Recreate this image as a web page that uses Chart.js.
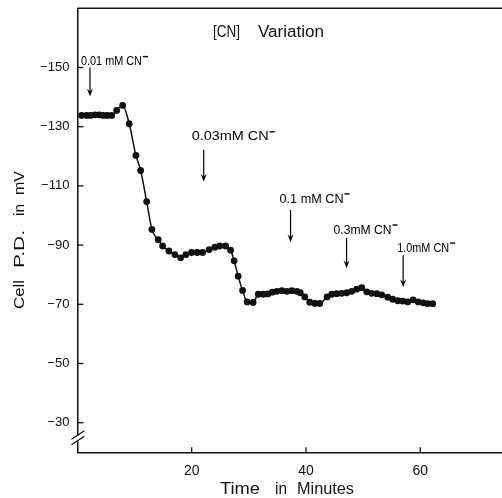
<!DOCTYPE html>
<html><head><meta charset="utf-8">
<style>html,body{margin:0;padding:0;background:#fff;overflow:hidden}</style>
<script src="https://cdn.jsdelivr.net/npm/chart.js@4"></script>
</head><body>
<canvas id="c" width="502" height="498"></canvas>
<script>
// ---- data ----
const timeMin = [0.75,1.63,2.33,3.08,3.83,4.53,5.23,6.0,6.87,7.92,9.07,10.24,11.07,12.12,13.04,14.14,14.91,16.01,17.06,18.06,18.99,19.98,20.96,21.9,23.06,24.06,24.93,25.93,26.8,27.43,28.13,28.9,29.7,30.75,
  31.66,32.53,33.32,34.1,34.9,35.77,36.64,37.52,38.39,39.0,39.79,40.66,41.54,42.41,43.69,44.51,45.38,46.26,47.13,48.0,48.88,49.76,50.63,51.5,52.38,53.25,54.3,55.17,56.05,56.92,57.8,58.76,59.63,60.51,61.29,62.17];
const cellPD = [-133.8,-133.8,-133.8,-134.0,-134.0,-133.8,-133.8,-133.8,-135.5,-137.2,-131.0,-120.3,-115.2,-104.7,-95.3,-91.8,-89.7,-88.0,-86.8,-85.7,-86.8,-87.5,-87.5,-87.5,-88.5,-89.3,-89.7,-89.7,-88.3,-84.7,-79.5,-74.7,-70.8,-70.6,
  -73.4,-73.4,-73.5,-74.1,-74.4,-74.6,-74.4,-74.6,-74.4,-73.9,-72.5,-70.7,-70.3,-70.3,-72.5,-73.4,-73.6,-73.7,-73.9,-74.4,-75.1,-75.6,-74.2,-73.7,-73.6,-73.2,-72.4,-71.7,-71.2,-71.1,-70.8,-71.5,-70.8,-70.5,-70.2,-70.2];
const xTicks = [20, 40, 60];
const xTickLabels = ['20', '40', '60'];
const yTicks = [-150, -130, -110, -90, -70, -50, -30];
const yTickLabels = ['\u2212150', '\u2212130', '\u2212110', '\u221290', '\u221270', '\u221250', '\u221230'];
const cnLabels = ['0.01 mM CN', '0.03mM CN', '0.1 mM CN', '0.3mM CN', '1.0mM CN'];
const cnTimes = [2.2, 22.1, 37.3, 47.1, 57.0];
const arrowTopPD = [-150.0, -122.2, -101.9, -92.4, -86.6];
const arrowBottomPD = [-140.2, -111.4, -91.0, -82.2, -75.8];
const labelPD = [-152.0, -126.6, -105.6, -95.1, -89.0];
const chartTitle = ['[CN]', 'Variation'];
const xTitle = ['Time', 'in', 'Minutes'];
const yTitle = ['Cell', 'P.D.', 'in', 'mV'];

const points = timeMin.map((t, i) => ({x: t, y: cellPD[i]}));
const FONT = "'Liberation Sans', Arial, sans-serif";

const deco = {
  id: 'deco',
  afterDraw(chart) {
    const ctx = chart.ctx, a = chart.chartArea;
    const xs = chart.scales.x, ys = chart.scales.y;
    ctx.save();
    ctx.strokeStyle = '#111'; ctx.fillStyle = '#111';
    // top border
    ctx.lineWidth = 1.5;
    ctx.beginPath(); ctx.moveTo(a.left, a.top); ctx.lineTo(a.right, a.top); ctx.stroke();
    // inner ticks
    ctx.lineWidth = 1.3;
    yTicks.forEach(v => { const y = ys.getPixelForValue(v); ctx.beginPath(); ctx.moveTo(a.left, y); ctx.lineTo(a.left + 6, y); ctx.stroke(); });
    xTicks.forEach(v => { const x = xs.getPixelForValue(v); ctx.beginPath(); ctx.moveTo(x, a.bottom); ctx.lineTo(x, a.bottom - 5); ctx.stroke(); });
    // axis break
    ctx.fillStyle = '#fff';
    ctx.fillRect(a.left - 3, a.bottom - 16.5, 6, 5.5);
    ctx.fillStyle = '#111';
    ctx.lineWidth = 1.3;
    ctx.beginPath(); ctx.moveTo(a.left - 6, a.bottom - 13); ctx.lineTo(a.left + 7, a.bottom - 21.5); ctx.stroke();
    ctx.beginPath(); ctx.moveTo(a.left - 6, a.bottom - 7.5); ctx.lineTo(a.left + 7, a.bottom - 16); ctx.stroke();
    // title
    ctx.textBaseline = 'middle'; ctx.textAlign = 'left';
    ctx.font = '16px ' + FONT;
    fitText(ctx, chartTitle[0], 213, 33, 27);
    fitText(ctx, chartTitle[1], 258, 33, 66);
    // x title
    fitText(ctx, xTitle[0], 220, 490, 40);
    fitText(ctx, xTitle[1], 275, 490, 12);
    fitText(ctx, xTitle[2], 297, 490, 57);
    // y title
    ctx.save();
    ctx.translate(20, 0); ctx.rotate(-Math.PI / 2);
    ctx.font = '15px ' + FONT;
    fitText(ctx, yTitle[0], -309, 0, 29);
    fitText(ctx, yTitle[1], -268, 0, 38);
    fitText(ctx, yTitle[2], -216, 0, 12);
    fitText(ctx, yTitle[3], -195, 0, 24);
    ctx.restore();
    // annotations
    const shift = [-9, -12, -11, -13, -6];
    const widths = [61, 77, 64, 58, 52];
    ctx.fillStyle = '#000'; ctx.strokeStyle = '#000';
    ctx.font = '13.5px ' + FONT;
    cnLabels.forEach((lab, i) => {
      const x = xs.getPixelForValue(cnTimes[i]);
      const y0 = ys.getPixelForValue(arrowTopPD[i]);
      const y1 = ys.getPixelForValue(arrowBottomPD[i]);
      const ly = ys.getPixelForValue(labelPD[i]);
      const w = fitText(ctx, lab, x + shift[i], ly, widths[i]);
      // superscript minus
      ctx.lineWidth = 1.4;
      ctx.beginPath(); ctx.moveTo(x + shift[i] + w + 1, ly - 5); ctx.lineTo(x + shift[i] + w + 6, ly - 5); ctx.stroke();
      // arrow
      ctx.lineWidth = 1.2;
      ctx.beginPath(); ctx.moveTo(x, y0); ctx.lineTo(x, y1 - 3); ctx.stroke();
      ctx.beginPath(); ctx.moveTo(x, y1); ctx.lineTo(x - 3, y1 - 8); ctx.lineTo(x, y1 - 5); ctx.lineTo(x + 3, y1 - 8); ctx.closePath(); ctx.fill();
    });
    ctx.restore();
  }
};
function fitText(ctx, txt, x, y, width) {
  const w = ctx.measureText(txt).width;
  const s = width / w;
  ctx.save(); ctx.translate(x, y); ctx.scale(s, 1); ctx.fillText(txt, 0, 0); ctx.restore();
  return width;
}

new Chart(document.getElementById('c'), {
  type: 'line',
  data: { datasets: [{
    data: points,
    borderColor: '#111', borderWidth: 1.5,
    pointRadius: 3.4, pointBackgroundColor: '#111', pointBorderWidth: 0,
    cubicInterpolationMode: 'monotone', fill: false
  }]},
  options: {
    responsive: false, animation: false,
    layout: { autoPadding: false, padding: { top: 8.3, left: 0, right: 0, bottom: 0 } },
    plugins: { legend: { display: false }, tooltip: { enabled: false } },
    scales: {
      x: {
        type: 'linear', min: 0, max: 74.3,
        grid: { display: false, drawTicks: false },
        border: { display: true, color: '#111', width: 1.5 },
        afterBuildTicks: s => { s.ticks = xTicks.map(v => ({value: v})); },
        afterFit: s => { s.height = 45.7; s.paddingLeft = 0; s.paddingRight = 0; s.paddingTop = 0; s.paddingBottom = 0; },
        ticks: { padding: 10, color: '#111', font: { family: FONT, size: 14 }, maxRotation: 0,
          callback: (v) => xTickLabels[xTicks.indexOf(v)] }
      },
      y: {
        type: 'linear', min: -170, max: -20, reverse: true,
        grid: { display: false, drawTicks: false },
        border: { display: true, color: '#111', width: 1.5 },
        afterBuildTicks: s => { s.ticks = yTicks.map(v => ({value: v})); },
        afterFit: s => { s.width = 77.4; s.paddingLeft = 0; s.paddingRight = 0; s.paddingTop = 0; s.paddingBottom = 0; },
        ticks: { padding: 8, color: '#111', font: { family: FONT, size: 13 },
          callback: (v) => yTickLabels[yTicks.indexOf(v)] }
      }
    }
  },
  plugins: [deco]
});
</script>
</body></html>
